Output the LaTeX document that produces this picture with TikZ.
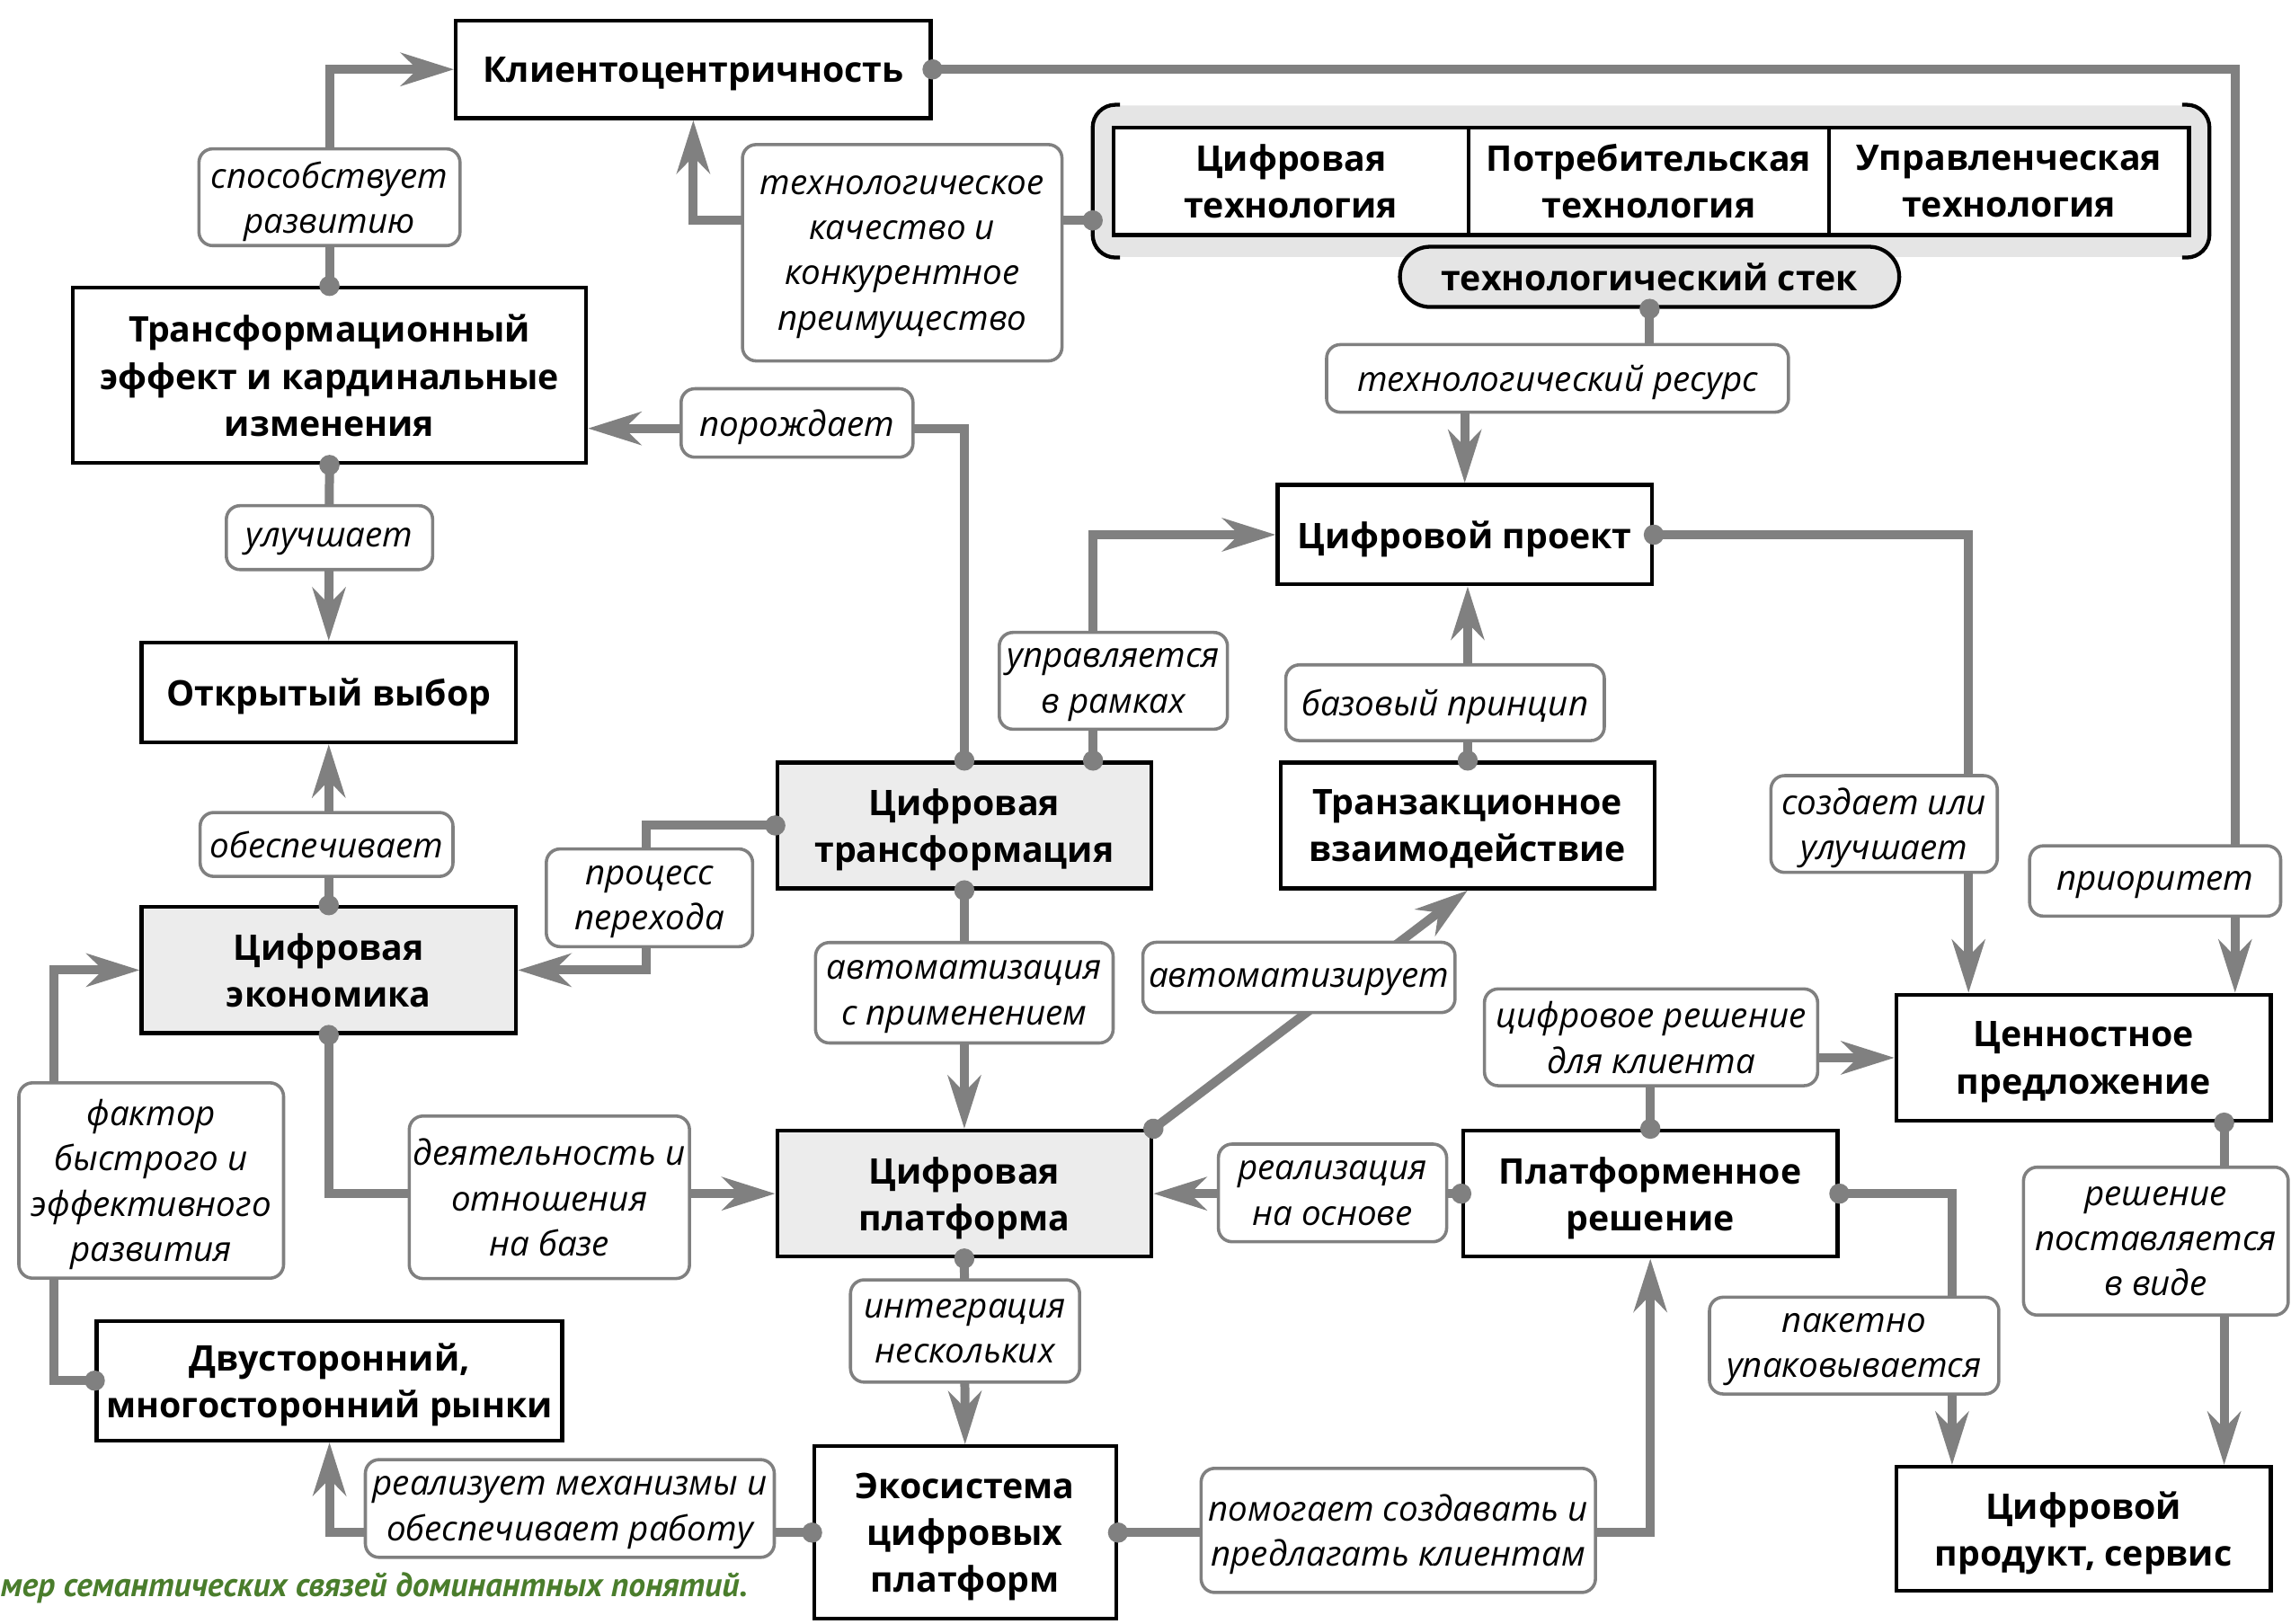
\documentclass[tikz,border=0pt]{standalone}
\usepackage{fontspec}
\setmainfont{Open Sans}
\newfontfamily\captionfont{PT Sans}
\usetikzlibrary{arrows.meta,calc}

\definecolor{linkgray}{RGB}{128,128,128}
\definecolor{boxgray}{RGB}{236,236,236}
\definecolor{stackgray}{RGB}{229,229,229}
\definecolor{capgreen}{RGB}{74,125,44}

\tikzset{
  concept/.style={draw, line width=1.2pt, fill=white, align=center, inner sep=2pt,
    font=\fontsize{11}{14.6}\selectfont\bfseries, minimum width=4.1cm, minimum height=1.38cm,
    text depth=0pt},
  keyconcept/.style={concept, fill=boxgray},
  rel/.style={draw=linkgray, line width=1pt, rounded corners=0.15cm, fill=white, align=center,
    inner sep=1pt, font=\fontsize{10.8}{14.1}\selectfont\itshape, text depth=0pt},
  link/.style={draw=linkgray, line width=2.8pt, shorten <=-0.11cm,
    {Circle[length=0.22cm]}-{Stealth[length=0.58cm,width=0.36cm,inset=0.18cm]}},
}

\begin{document}
\begin{tikzpicture}[x=0.016cm, y=-0.016cm]
\useasboundingbox (0,0) rectangle (1568,1111);

% concepts
\node[concept, minimum width=5.2cm, minimum height=1.07cm] (Client) at (474.5,47.5) {Клиентоцентричность};
\node[concept, minimum width=5.62cm, minimum height=1.92cm] (Effect) at (225.5,257) {Трансформационный\\эффект и кардинальные\\изменения};
\node[concept, minimum height=1.09cm] (Choice) at (225,474) {Открытый выбор};
\node[keyconcept] (Econ) at (225,664) {Цифровая\\экономика};
\node[keyconcept] (DTrans) at (660,565) {Цифровая\\трансформация};
\node[concept, minimum height=1.09cm] (Proj) at (1002.5,366) {Цифровой проект};
\node[concept] (Trans) at (1004.5,565) {Транзакционное\\взаимодействие};
\node[concept] (Value) at (1426,724) {Ценностное\\предложение};
\node[keyconcept] (Plat) at (660,817) {Цифровая\\платформа};
\node[concept] (Sol) at (1129.5,817) {Платформенное\\решение};
\node[concept, minimum width=5.1cm, minimum height=1.31cm] (Market) at (225.5,945) {Двусторонний,\\многосторонний рынки};
\node[concept, minimum width=3.31cm, minimum height=1.89cm] (Eco) at (660.5,1049) {Экосистема\\цифровых\\платформ};
\node[concept, minimum height=1.36cm] (Prod) at (1426,1046.5) {Цифровой\\продукт, сервис};

% technology stack
\node[fill=stackgray, rounded corners=0.25cm, minimum width=12.22cm, minimum height=1.66cm] (Stack) at (1130,124) {};
\draw[line width=1.2pt, rounded corners=0.25cm] ([xshift=0.3cm]Stack.north west) -- (Stack.north west) -- (Stack.south west) -- ([xshift=0.3cm]Stack.south west);
\draw[line width=1.2pt, rounded corners=0.25cm] ([xshift=-0.3cm]Stack.north east) -- (Stack.north east) -- (Stack.south east) -- ([xshift=-0.3cm]Stack.south east);
\node[concept, minimum width=3.89cm, minimum height=1.18cm] (Tech1) at (883.5,124) {Цифровая\\технология};
\node[concept, minimum width=3.95cm, minimum height=1.18cm] (Tech2) at (1128.5,124) {Потребительская\\технология};
\node[concept, minimum width=3.94cm, minimum height=1.18cm] (Tech3) at (1375,124) {Управленческая\\технология};
\node[concept, fill=stackgray, rounded corners=0.33cm, minimum width=5.47cm, minimum height=0.66cm, text depth=] (StackName) at (1129,189.5) {технологический стек};

% links
\draw[link] (Effect.north) |- (Client.west);
\draw[link] ([yshift=-0.43cm]Stack.west) -| (Client.south);
\draw[link] (StackName.south) -- ++(0,-0.8cm) -| (Proj.north);
\draw[link] (DTrans.north) |- ([yshift=-0.58cm]Effect.east);
\draw[link] (Effect.south) -- (Choice.north);
\draw[link] ([xshift=1.41cm]DTrans.north) |- (Proj.west);
\draw[link] (Trans.north) -- (Trans.north |- Proj.south);
\draw[link] (Econ.north) -- (Choice.south);
\draw[link] (DTrans.west) -| ($(Econ.east)!0.5!(DTrans.west)$) |- (Econ.east);
\draw[link] (DTrans.south) -- (Plat.north);
\draw[link] (Plat.north east) -- (Trans.south);
\draw[link] (Proj.east) -| ([xshift=-1.26cm]Value.north);
\draw[link] (Client.east) -| ([xshift=1.66cm]Value.north);
\draw[link] (Sol.north) |- (Value.west);
\draw[link] (Sol.west) -- (Plat.east);
\draw[link] (Sol.east) -| ([xshift=-1.44cm]Prod.north);
\draw[link] ([xshift=1.54cm]Value.south) -- ([xshift=1.54cm]Prod.north);
\draw[link] (Econ.south) |- (Plat.west);
\draw[link] (Market.west) -- ++(-0.45cm,0) |- (Econ.west);
\draw[link] (Plat.south) -- (Eco.north);
\draw[link] (Eco.west) -| (Market.south);
\draw[link] (Eco.east) -| (Sol.south);

% relations
\node[rel, minimum width=2.86cm, minimum height=1.06cm] (R1) at (225.5,135) {способствует\\развитию};
\node[rel, minimum width=3.5cm, minimum height=2.37cm] (R2) at (617.5,173) {технологическое\\качество и\\конкурентное\\преимущество};
\node[rel, minimum width=5.06cm, minimum height=0.74cm] (R3) at (1066,259) {технологический ресурс};
\node[rel, minimum width=2.54cm, minimum height=0.75cm] (R4) at (545.5,289.5) {порождает};
\node[rel, minimum width=2.26cm, minimum height=0.7cm] (R5) at (225.5,368) {улучшает};
\node[rel, minimum width=2.5cm, minimum height=1.06cm] (R6) at (762,466) {управляется\\в рамках};
\node[rel, minimum width=3.49cm, minimum height=0.83cm] (R7) at (989,481) {базовый принцип};
\node[rel, minimum width=2.77cm, minimum height=0.7cm] (R8) at (223.5,578) {обеспечивает};
\node[rel, minimum width=2.26cm, minimum height=1.07cm] (R9) at (444.5,614.5) {процесс\\перехода};
\node[rel, minimum width=2.48cm, minimum height=1.06cm] (R10) at (1289.5,564) {создает или\\улучшает};
\node[rel, minimum width=2.75cm, minimum height=0.77cm] (R11) at (1475,603) {приоритет};
\node[rel, minimum width=3.26cm, minimum height=1.1cm] (R12) at (660,679.5) {автоматизация\\с применением};
\node[rel, minimum width=3.42cm, minimum height=0.77cm] (R13) at (889,669) {автоматизирует};
\node[rel, minimum width=3.65cm, minimum height=1.06cm] (R14) at (1130,710) {цифровое решение\\для клиента};
\node[rel, minimum width=2.9cm, minimum height=2.14cm] (R15) at (103.5,808) {фактор\\быстрого и\\эффективного\\развития};
\node[rel, minimum width=3.07cm, minimum height=1.78cm] (R16) at (376,819.5) {деятельность и\\отношения\\на базе};
\node[rel, minimum width=2.5cm, minimum height=1.07cm] (R17) at (912,816.5) {реализация\\на основе};
\node[rel, minimum width=2.9cm, minimum height=1.62cm] (R18) at (1475.5,849.5) {решение\\поставляется\\в виде};
\node[rel, minimum width=2.51cm, minimum height=1.12cm] (R19) at (660.5,911) {интеграция\\нескольких};
\node[rel, minimum width=3.17cm, minimum height=1.06cm] (R20) at (1269,921) {пакетно\\упаковывается};
\node[rel, minimum width=4.48cm, minimum height=1.07cm] (R21) at (390,1032.5) {реализует механизмы и\\обеспечивает работу};
\node[rel, minimum width=4.32cm, minimum height=1.36cm] (R22) at (957,1047.5) {помогает создавать и\\предлагать клиентам};

\node[anchor=west, inner sep=0pt, text=capgreen, font=\captionfont\fontsize{10.5}{12}\selectfont\bfseries\itshape] (Caption) at (0,1087) {мер семантических связей доминантных понятий.};
\end{tikzpicture}
\end{document}
